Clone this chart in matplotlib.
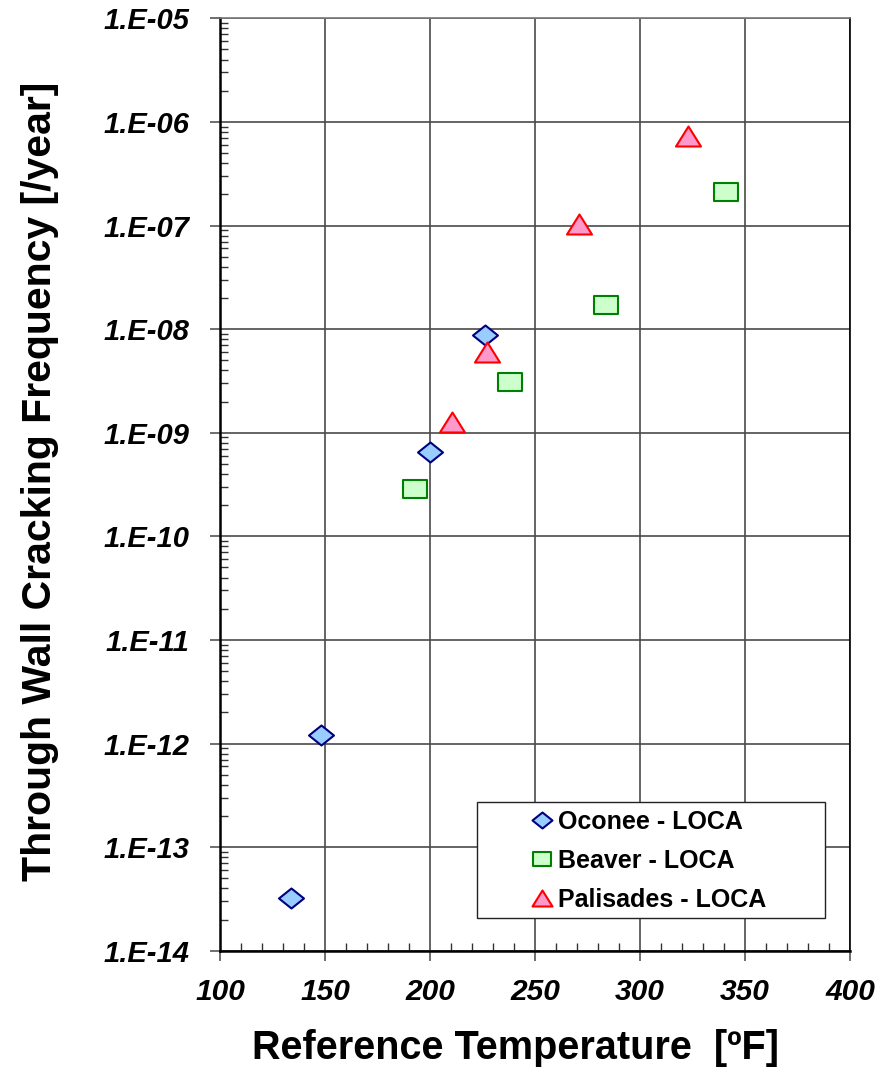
import numpy as np
import matplotlib
matplotlib.use("Agg")
import matplotlib.pyplot as plt
from matplotlib.path import Path
from matplotlib.patches import Rectangle
from matplotlib.ticker import FixedLocator, FuncFormatter, MultipleLocator, NullFormatter

# ---- data ----
oconee_T = [134, 148, 200, 226]
oconee_F = [3.2e-14, 1.22e-12, 6.5e-10, 8.7e-9]
beaver_T = [193, 238, 284, 341]
beaver_F = [2.86e-10, 3.1e-9, 1.72e-8, 2.1e-7]
palis_T = [210.5, 227, 271, 323]
palis_F = [1.26e-9, 6.0e-9, 1.03e-7, 7.3e-7]
series_labels = ["Oconee - LOCA", "Beaver - LOCA", "Palisades - LOCA"]
x_ticks = [100, 150, 200, 250, 300, 350, 400]
y_decades = list(range(-14, -4))

plt.rcParams['font.family'] = ['Liberation Sans', 'DejaVu Sans']

fig = plt.figure(figsize=(8.78, 10.70), dpi=100)
ax = fig.add_axes([220/878, 1 - 950.7/1070, 630/878, (950.7 - 18.3)/1070])

diamond = Path([(0, 0.8), (1, 0), (0, -0.8), (-1, 0), (0, 0.8)],
               [Path.MOVETO, Path.LINETO, Path.LINETO, Path.LINETO, Path.CLOSEPOLY])
rect = Path([(-1, -0.78), (1, -0.78), (1, 0.78), (-1, 0.78), (-1, -0.78)],
            [Path.MOVETO, Path.LINETO, Path.LINETO, Path.LINETO, Path.CLOSEPOLY])
tri = Path([(0, 0.8), (1, -0.8), (-1, -0.8), (0, 0.8)],
           [Path.MOVETO, Path.LINETO, Path.LINETO, Path.CLOSEPOLY])

h1, = ax.plot(oconee_T, oconee_F, ls='none', marker=diamond, ms=18,
              mfc='#99CCFF', mec='#000080', mew=1.5, label=series_labels[0], zorder=5)
h2, = ax.plot(beaver_T, beaver_F, ls='none', marker=rect, ms=17,
              mfc='#CCFFCC', mec='#008000', mew=1.5, label=series_labels[1], zorder=4)
h3, = ax.plot(palis_T, palis_F, ls='none', marker=tri, ms=18,
              mfc='#FF99CC', mec='#FF0000', mew=1.5, label=series_labels[2], zorder=6)

ax.set_yscale('log')
ax.set_xlim(100, 400)
ax.set_ylim(1e-14, 1e-5)

ax.xaxis.set_major_locator(FixedLocator(x_ticks))
ax.xaxis.set_minor_locator(MultipleLocator(10))
ax.yaxis.set_major_locator(FixedLocator([10.0**e for e in y_decades]))
ax.yaxis.set_major_formatter(FuncFormatter(lambda v, p: "1.E%03d" % int(round(np.log10(v)))))
minor_y = [m * 10.0**e for e in range(-14, -5) for m in range(2, 10)]
ax.yaxis.set_minor_locator(FixedLocator(minor_y))
ax.yaxis.set_minor_formatter(NullFormatter())

ax.grid(True, which='major', color='#4a4a4a', lw=1.2)
ax.set_axisbelow(True)

ax.tick_params(axis='both', which='major', direction='out', length=7, width=1.2,
               color='#555555')
ax.tick_params(axis='both', which='minor', direction='in', length=6, width=1.0,
               color='#333333')
ax.tick_params(axis='y', which='major', pad=15)
ax.tick_params(axis='x', which='major', pad=13)
for lab in ax.get_yticklabels():
    lab.set_fontsize(21); lab.set_fontweight('bold'); lab.set_fontstyle('italic')
for lab in ax.get_xticklabels():
    lab.set_fontsize(21.5); lab.set_fontweight('bold'); lab.set_fontstyle('italic')

for s in ['left', 'bottom']:
    ax.spines[s].set_linewidth(1.8)
    ax.spines[s].set_color('black')
ax.spines['right'].set_linewidth(1.2)
ax.spines['right'].set_color('black')
ax.spines['top'].set_linewidth(1.2)
ax.spines['top'].set_color('#777777')

# axis titles
fig.text(515/878, 1 - 1059/1070, "Reference Temperature  [ºF]", ha='center', va='baseline',
         fontsize=28.5, fontweight='bold')
fig.text(40/878, 1 - 481/1070, "Through Wall Cracking Frequency [/year]", ha='center',
         va='center', rotation=90, fontsize=29.5, fontweight='bold')

# legend frame and entries
lx0, ly0 = (477.3 - 220)/630, (950.7 - 917.7)/932.4
lx1, ly1 = (825 - 220)/630, (950.7 - 801.7)/932.4
ax.add_patch(Rectangle((lx0, ly0), lx1 - lx0, ly1 - ly0, transform=ax.transAxes,
                       facecolor='white', edgecolor='#222222', lw=1.0, zorder=7))
leg = ax.legend(handles=[h1, h2, h3], loc='upper left',
                bbox_to_anchor=((531 - 220)/630, (950.7 - 810)/932.4),
                frameon=False, prop={'weight': 'bold', 'size': 18},
                markerscale=0.8, handlelength=0.9, handletextpad=0.2,
                labelspacing=0.6, borderpad=0.0, borderaxespad=0.0)
leg.set_zorder(8)

fig.savefig("out.png", dpi=100)
